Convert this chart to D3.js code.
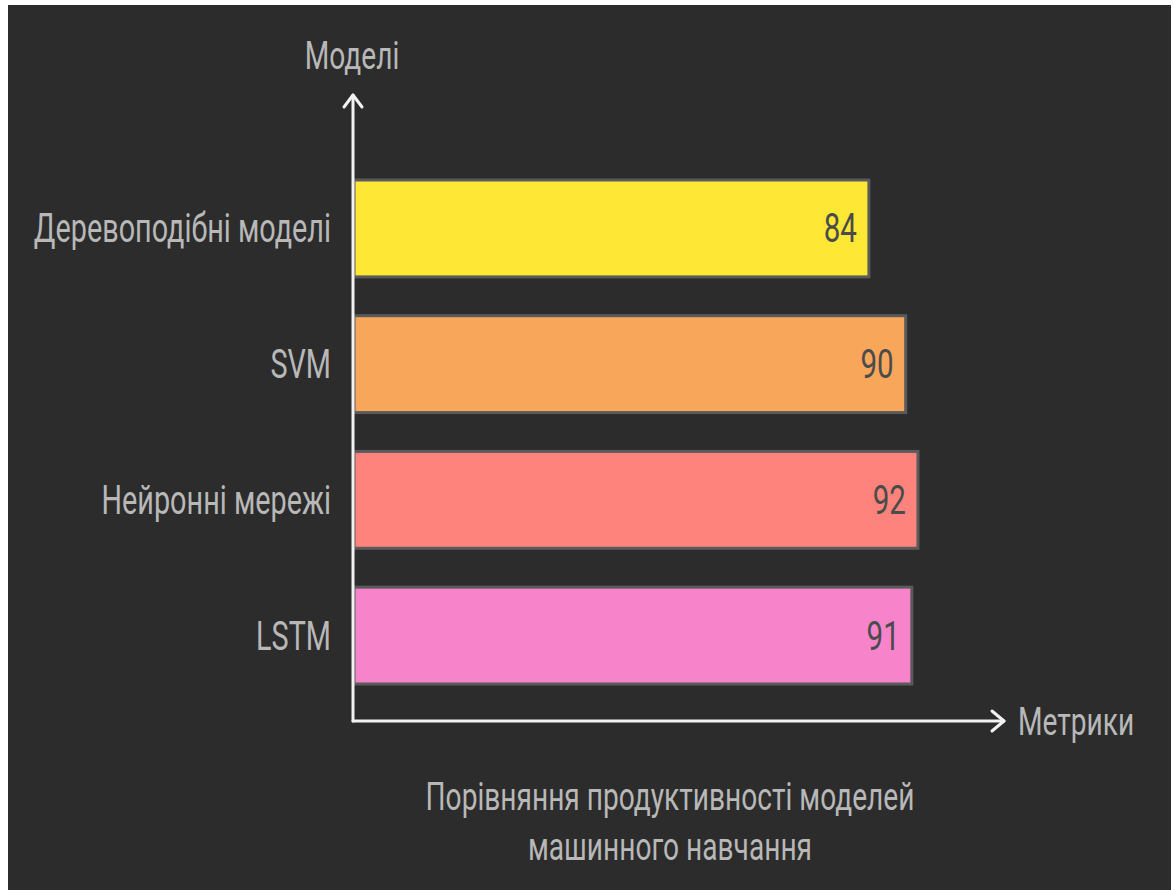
<!DOCTYPE html>
<html>
<head>
<meta charset="utf-8">
<script src="https://cdn.jsdelivr.net/npm/d3@7"></script>
<style>
  html, body { margin: 0; padding: 0; background: #ffffff; }
  svg { display: block; }
</style>
</head>
<body>
<svg id="chart" width="1173" height="890"></svg>
<script>
// Model accuracy comparison
const categories = ["Деревоподібні моделі", "SVM", "Нейронні мережі", "LSTM"];
const values = [84, 90, 92, 91];
const barColors = ["#ffe835", "#f8a75a", "#ff837d", "#f783cb"];
const yAxisTitle = "Моделі";
const xAxisTitle = "Метрики";
const titleLines = ["Порівняння продуктивності моделей", "машинного навчання"];

const W = 1173, H = 890;
const svg = d3.select("#chart");
const FONT = "Roboto, 'Liberation Sans', sans-serif";

// dark panel
svg.append("rect").attr("x", 8).attr("y", 5).attr("width", 1163).attr("height", H - 5)
  .attr("fill", "#2c2c2c");

const x0 = 353, yTop = 95, yAxisY = 721, xEnd = 1004;

const x = d3.scaleLinear().domain([0, 100]).range([x0 + 1, x0 + 1 + 613]);
const y = d3.scaleBand().domain(categories).range([180, 684]).paddingInner(0.286).paddingOuter(0);

// text squeezed horizontally for a condensed look
function ctext(sel, tx, ty, anchor, str, size, color, sx) {
  return sel.append("text")
    .attr("transform", `translate(${tx},${ty}) scale(${sx || 0.74},1)`)
    .attr("text-anchor", anchor)
    .attr("font-family", FONT)
    .attr("font-size", size)
    .attr("fill", color)
    .text(str);
}

// bars
const bars = svg.append("g");
bars.selectAll("rect").data(categories).join("rect")
  .attr("x", x(0))
  .attr("y", d => y(d))
  .attr("width", (d, i) => x(values[i]) - x(0))
  .attr("height", y.bandwidth())
  .attr("fill", (d, i) => barColors[i])
  .attr("stroke", "#5a5a5a")
  .attr("stroke-width", 3);

// value labels inside bar ends
categories.forEach((c, i) => {
  ctext(svg, x(values[i]) - 12, y(c) + y.bandwidth() / 2 + 14, "end", String(values[i]), 40, "#4b4b4b");
});

// category labels
categories.forEach(c => {
  ctext(svg, 331, y(c) + y.bandwidth() / 2 + 14, "end", c, 40, "#b8b8b8", 0.72);
});

// axes with open arrow heads
const axis = svg.append("g").attr("stroke", "#f2f2f2").attr("stroke-width", 3)
  .attr("fill", "none").attr("stroke-linecap", "round").attr("stroke-linejoin", "round");
axis.append("line").attr("x1", x0).attr("y1", yAxisY).attr("x2", x0).attr("y2", yTop);
axis.append("line").attr("x1", x0).attr("y1", yAxisY).attr("x2", xEnd).attr("y2", yAxisY);
axis.append("path").attr("d", d3.line()([[x0 - 9, yTop + 12], [x0, yTop], [x0 + 9, yTop + 12]]));
axis.append("path").attr("d", d3.line()([[xEnd - 12, yAxisY - 10], [xEnd, yAxisY], [xEnd - 12, yAxisY + 10]]));

// axis titles
ctext(svg, 352, 69, "middle", yAxisTitle, 38, "#b8b8b8");
ctext(svg, 1018, 735, "start", xAxisTitle, 38, "#b8b8b8");

// chart title
titleLines.forEach((t, i) => {
  ctext(svg, 670, 810 + i * 50, "middle", t, 38, "#b8b8b8");
});
</script>
</body>
</html>
